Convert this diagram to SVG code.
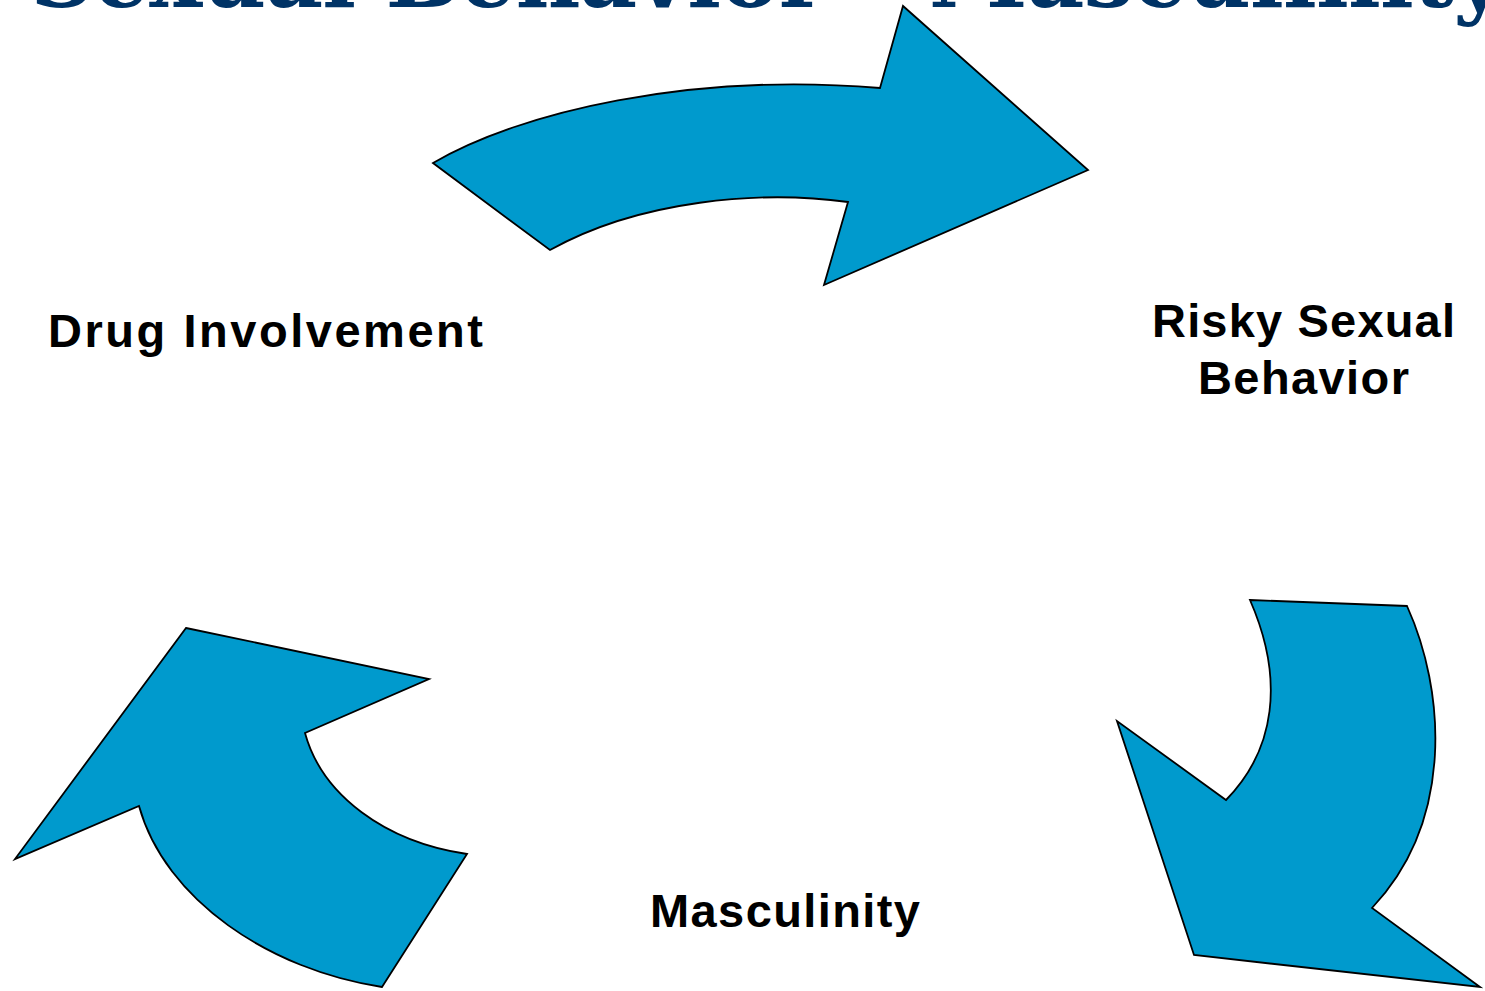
<svg xmlns="http://www.w3.org/2000/svg" width="1485" height="991" viewBox="0 0 1485 991">
<style>
.arrow{fill:#009ACD;stroke:#000;stroke-width:1.8;stroke-linejoin:miter}
.label{font-family:"Liberation Sans",Arial,sans-serif;font-weight:bold;font-size:47px;fill:#000}
.title{font-family:"DejaVu Serif","Liberation Serif",serif;font-weight:bold;font-size:89px;fill:#003366}
</style>
<rect width="1485" height="991" fill="#fff"/>
<text class="title" x="30" y="7" textLength="1475" lengthAdjust="spacing">Sexual Behavior – Masculinity</text>
<g id="connectors">
<path id="arrow-top" class="arrow" d="M433,163 C520,112 690,72 880,88 L903,6 L1088,170 L824,285 L848,202 C760,190 640,200 550,250 Z"/>
<path id="arrow-right" class="arrow" d="M1250,600 L1407,606 C1445,690 1455,820 1372,908 L1480,987 L1194,955 L1117,721 L1226,800 C1275,750 1285,680 1250,600 Z"/>
<path id="arrow-left" class="arrow" d="M186,628 L429,679 L305,733 C322,795 385,842 467,854 L382,987 C270,970 165,900 139,806 L15,859 Z"/>
</g>
<g id="node-drug">
<text class="label" x="48" y="347" textLength="435" lengthAdjust="spacing">Drug Involvement</text>
</g>
<g id="node-risky">
<text class="label" x="1152" y="337" textLength="303" lengthAdjust="spacing">Risky Sexual</text>
<text class="label" x="1198" y="394" textLength="211" lengthAdjust="spacing">Behavior</text>
</g>
<g id="node-masculinity">
<text class="label" x="650" y="927" textLength="270" lengthAdjust="spacing">Masculinity</text>
</g>
</svg>
